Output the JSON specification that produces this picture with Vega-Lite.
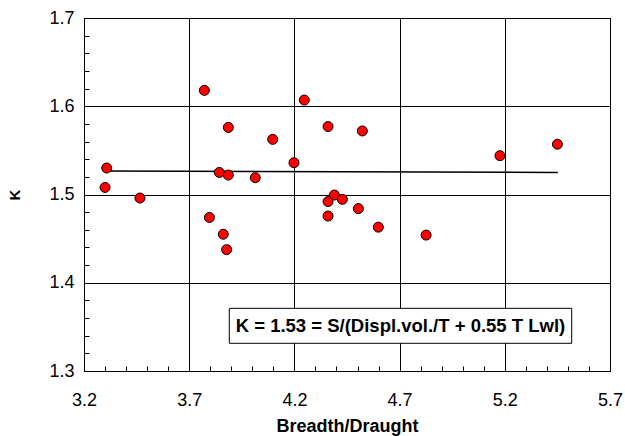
{
  "$schema": "https://vega.github.io/schema/vega-lite/v6.json",
  "autosize": "none",
  "width": 526,
  "height": 353,
  "padding": {"left": 84, "top": 18, "right": 15, "bottom": 65},
  "background": "white",
  "config": {
    "view": {"stroke": "black", "strokeWidth": 1},
    "font": "Liberation Sans"
  },
  "datasets": {
    "pts": [
      {"bt": 3.308, "k": 1.530},
      {"bt": 3.300, "k": 1.508},
      {"bt": 3.466, "k": 1.496},
      {"bt": 3.772, "k": 1.618},
      {"bt": 3.886, "k": 1.576},
      {"bt": 4.097, "k": 1.5625},
      {"bt": 4.247, "k": 1.607},
      {"bt": 4.198, "k": 1.536},
      {"bt": 3.843, "k": 1.525},
      {"bt": 3.886, "k": 1.522},
      {"bt": 4.014, "k": 1.519},
      {"bt": 3.796, "k": 1.474},
      {"bt": 3.862, "k": 1.455},
      {"bt": 3.878, "k": 1.4375},
      {"bt": 4.360, "k": 1.577},
      {"bt": 4.523, "k": 1.572},
      {"bt": 5.177, "k": 1.544},
      {"bt": 5.450, "k": 1.557},
      {"bt": 4.390, "k": 1.4994},
      {"bt": 4.360, "k": 1.492},
      {"bt": 4.428, "k": 1.4945},
      {"bt": 4.504, "k": 1.484},
      {"bt": 4.360, "k": 1.4756},
      {"bt": 4.599, "k": 1.463},
      {"bt": 4.826, "k": 1.454}
    ],
    "trend": [
      {"bt": 3.305, "k": 1.5265},
      {"bt": 5.452, "k": 1.525}
    ],
    "box": [
      {"x1": 3.8906, "x2": 5.518, "y1": 1.3314, "y2": 1.3710, "xc": 4.704, "yc": 1.351, "label": "K = 1.53 = S/(Displ.vol./T + 0.55 T Lwl)"}
    ]
  },
  "layer": [
    {
      "data": {"name": "trend"},
      "mark": {"type": "line", "color": "black", "strokeWidth": 1.5},
      "encoding": {
        "x": {
          "field": "bt", "type": "quantitative",
          "scale": {"domain": [3.2, 5.7], "nice": false, "zero": false},
          "axis": {
            "title": "Breadth/Draught",
            "titleFont": "Liberation Sans",
            "titleFontSize": 18,
            "titleFontWeight": "bold",
            "titleColor": "black",
            "titlePadding": 8,
            "tickCount": 100,
            "values": [3.2,3.3,3.4,3.5,3.6,3.7,3.8,3.9,4.0,4.1,4.2,4.3,4.4,4.5,4.6,4.7,4.8,4.9,5.0,5.1,5.2,5.3,5.4,5.5,5.6,5.7],
            "labelExpr": "abs((datum.value - 3.2) * 2 - round((datum.value - 3.2) * 2)) < 0.01 ? format(datum.value, '.1f') : ''",
            "labelFont": "Liberation Sans",
            "labelFontSize": 18,
            "labelColor": "black",
            "labelPadding": 25,
            "labelFlush": false,
            "labelOverlap": false,
            "tickSize": -5,
            "tickColor": "black",
            "domainColor": "black",
            "grid": true,
            "gridColor": "black",
            "gridWidth": 1,
            "gridOpacity": {"condition": {"test": "abs((datum.value - 3.2) * 2 - round((datum.value - 3.2) * 2)) < 0.01", "value": 1}, "value": 0}
          }
        },
        "y": {
          "field": "k", "type": "quantitative",
          "scale": {"domain": [1.3, 1.7], "nice": false, "zero": false},
          "axis": {
            "title": "K",
            "titleFont": "Liberation Sans",
            "titleFontSize": 15,
            "titleFontWeight": "bold",
            "titleColor": "black",
            "titlePadding": 26,
            "tickCount": 100,
            "values": [1.3,1.32,1.34,1.36,1.38,1.4,1.42,1.44,1.46,1.48,1.5,1.52,1.54,1.56,1.58,1.6,1.62,1.64,1.66,1.68,1.7],
            "labelExpr": "abs(datum.value * 10 - round(datum.value * 10)) < 0.01 ? format(datum.value, '.1f') : ''",
            "labelFont": "Liberation Sans",
            "labelFontSize": 18,
            "labelColor": "black",
            "labelPadding": 15,
            "labelFlush": false,
            "labelOverlap": false,
            "tickSize": -5,
            "tickColor": "black",
            "domainColor": "black",
            "grid": true,
            "gridColor": "black",
            "gridWidth": 1,
            "gridOpacity": {"condition": {"test": "abs(datum.value * 10 - round(datum.value * 10)) < 0.01", "value": 1}, "value": 0}
          }
        }
      }
    },
    {
      "data": {"name": "pts"},
      "mark": {"type": "point", "shape": "circle", "filled": true, "fill": "#ff0000", "stroke": "black", "strokeWidth": 1, "size": 100, "opacity": 1},
      "encoding": {
        "x": {"field": "bt", "type": "quantitative"},
        "y": {"field": "k", "type": "quantitative"}
      }
    },
    {
      "data": {"name": "box"},
      "mark": {"type": "rect", "fill": "white", "stroke": "black", "strokeWidth": 1},
      "encoding": {
        "x": {"field": "x1", "type": "quantitative"},
        "x2": {"field": "x2"},
        "y": {"field": "y1", "type": "quantitative"},
        "y2": {"field": "y2"}
      }
    },
    {
      "data": {"name": "box"},
      "mark": {"type": "text", "font": "Liberation Sans", "fontSize": 18.5, "fontWeight": "bold", "color": "black", "align": "center", "baseline": "middle"},
      "encoding": {
        "x": {"field": "xc", "type": "quantitative"},
        "y": {"field": "yc", "type": "quantitative"},
        "text": {"field": "label"}
      }
    }
  ]
}
